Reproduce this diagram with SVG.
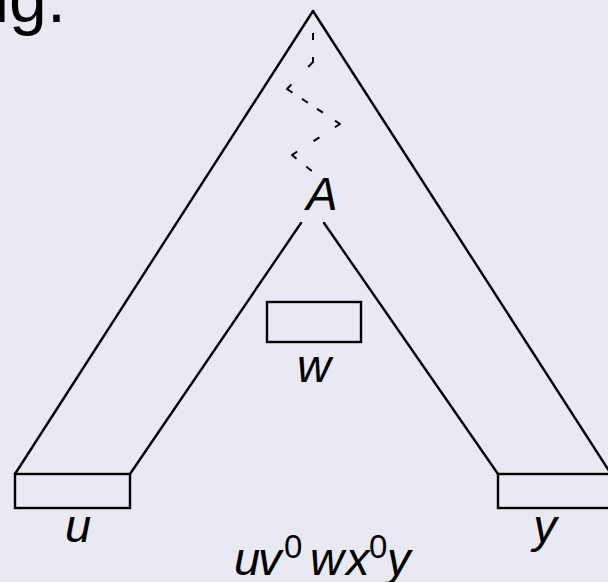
<svg xmlns="http://www.w3.org/2000/svg" width="608" height="582" viewBox="0 0 608 582">
<style>
.ln{stroke:#000;stroke-width:2.4;fill:none;stroke-linecap:round}
.box{stroke:#000;stroke-width:2.4;fill:none}
.var{font-family:"Liberation Sans",Arial,sans-serif;font-style:italic;font-size:47px;fill:#000}
.sup{font-family:"Liberation Sans",Arial,sans-serif;font-size:33px;fill:#000}
.ttl{font-family:"Liberation Sans",Arial,sans-serif;font-size:68px;fill:#000}
.dash{stroke:#000;stroke-width:2;fill:none;stroke-linejoin:round;stroke-dasharray:0 22 7 17 12 24 13 11.5 7 11 7 14.5 12 18.5 7 19.5 12 12.5 7 20}
</style>
<rect width="608" height="582" fill="#e9e9f3"/>
<g id="title-fragment"><text class="ttl" x="-6" y="22">ig.</text></g>
<g id="outer-tree">
<line class="ln" x1="313" y1="11" x2="15" y2="474"/>
<line class="ln" x1="313" y1="11" x2="611" y2="474"/>
</g>
<g id="subtree-A">
<line class="ln" x1="301" y1="223" x2="130" y2="474"/>
<line class="ln" x1="324" y1="223" x2="498" y2="474"/>
<text class="var" x="322" y="210" text-anchor="middle">A</text>
</g>
<g id="box-u">
<rect class="box" x="15" y="474" width="115" height="34"/>
<text class="var" x="78" y="542" text-anchor="middle">u</text>
</g>
<g id="box-w">
<rect class="box" x="267" y="302" width="94" height="40"/>
<text class="var" x="314" y="382" text-anchor="middle">w</text>
</g>
<g id="box-y">
<rect class="box" x="498" y="474" width="115" height="34"/>
<text class="var" x="545" y="542" text-anchor="middle">y</text>
</g>
<g id="formula">
<text class="var" y="575"><tspan x="234">u</tspan><tspan x="258">v</tspan><tspan class="sup" x="284" y="558" font-style="normal">0</tspan><tspan x="310" y="575">w</tspan><tspan x="346">x</tspan><tspan class="sup" x="369" y="558" font-style="normal">0</tspan><tspan x="387" y="575">y</tspan></text>
</g>
<g id="connectors">
<path class="dash" d="M313,11 L313,62 L287,89 L340,124 L292,155 L313,172"/>
</g>
</svg>
